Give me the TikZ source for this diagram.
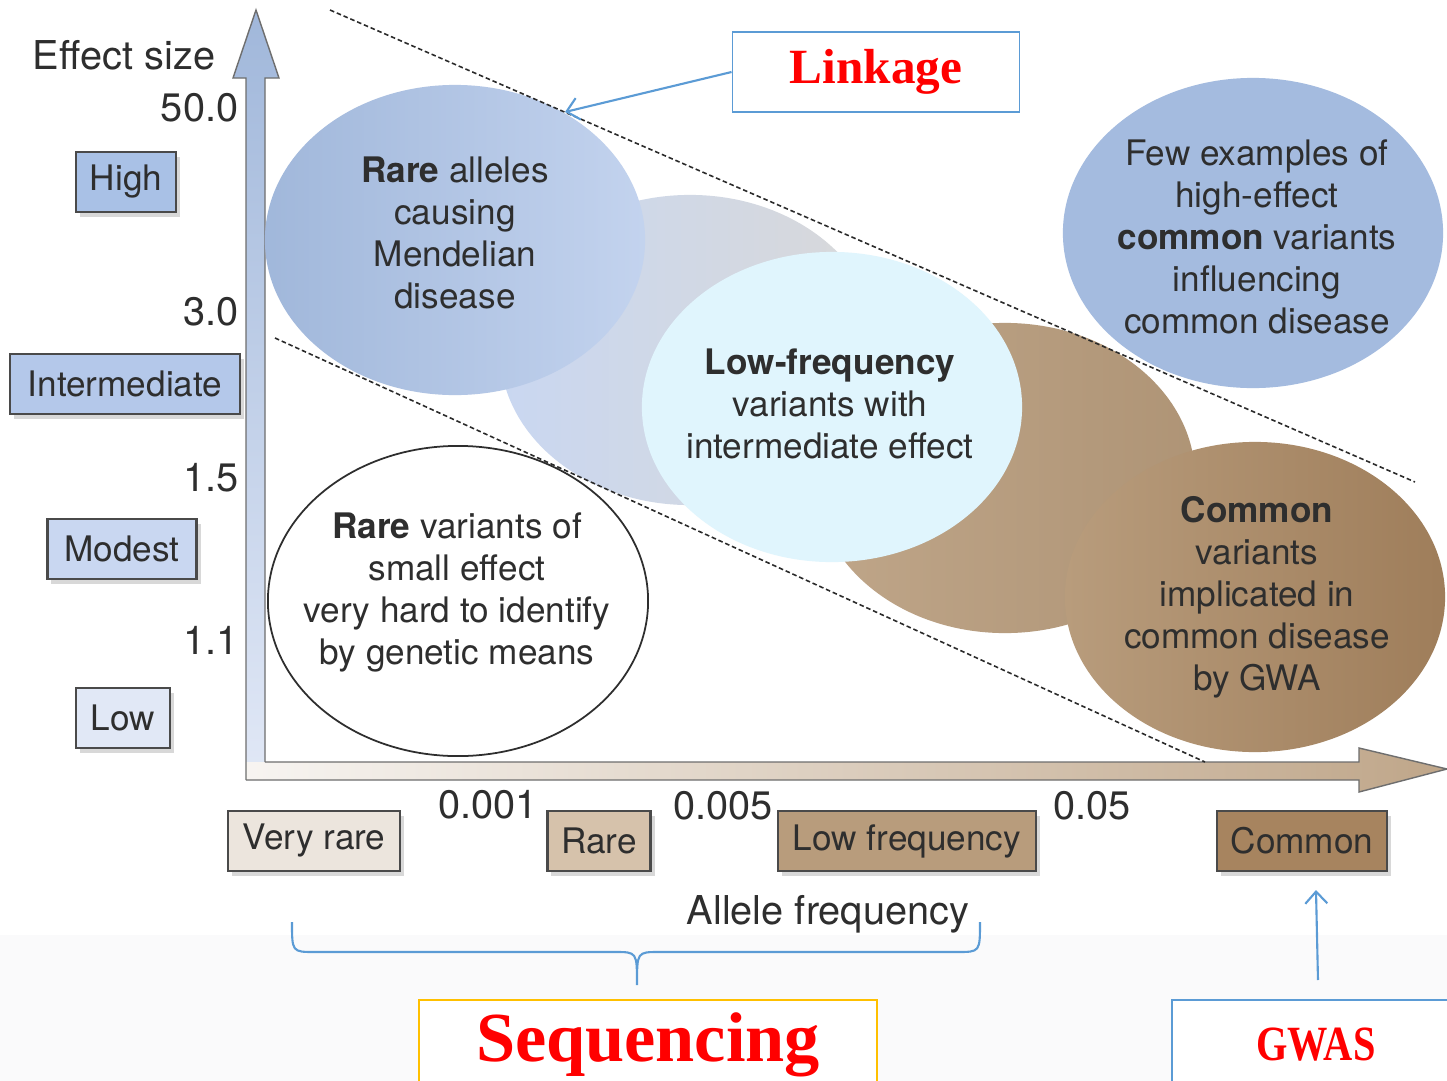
\documentclass[tikz,border=0pt]{standalone}
\usepackage{fontspec}
\setmainfont{TeX Gyre Heros}
\newfontfamily\calloutfont{Liberation Serif}
\usetikzlibrary{shapes.geometric,shadows,arrows.meta}

\definecolor{inkgray}{HTML}{2E2E2E}
\definecolor{boxedge}{HTML}{4A4A4A}
\definecolor{guidegray}{HTML}{2A2A2A}
\definecolor{calloutred}{HTML}{FF0000}
\definecolor{pointerblue}{HTML}{5B9BD5}
\definecolor{seqgold}{HTML}{FFC000}
\definecolor{bandgray}{HTML}{FAFAFB}
% effect size colours
\definecolor{highblue}{HTML}{A9C1E6}
\definecolor{interblue}{HTML}{B4C8EA}
\definecolor{modestblue}{HTML}{C9D7F1}
\definecolor{lowblue}{HTML}{E1E8F6}
% allele frequency colours
\definecolor{veryrarebrown}{HTML}{ECE5DD}
\definecolor{rarebrown}{HTML}{D6C2AB}
\definecolor{lowfreqbrown}{HTML}{B89C7C}
\definecolor{commonbrown}{HTML}{A7845F}

\begin{document}
\begin{tikzpicture}[x=0.01cm,y=-0.01cm,
  blob/.style={ellipse, inner sep=0pt, minimum width=3.8cm, minimum height=3.1cm},
  blobtext/.style={align=center, inner sep=0pt, text=inkgray, font=\fontsize{10}{11.95}\selectfont},
  axislabel/.style={inner sep=0pt, text=inkgray, font=\fontsize{11.3}{13}\selectfont},
  catbox/.style={draw=boxedge, line width=0.6pt, inner sep=0pt, minimum height=0.6cm, text=inkgray,
    font=\fontsize{10}{12}\selectfont, drop shadow={shadow xshift=0.04cm, shadow yshift=-0.05cm, opacity=0.3}},
  callout/.style={draw=pointerblue, line width=0.5pt, fill=white, inner sep=0pt, text=calloutred, font=\calloutfont\bfseries},
  guide/.style={draw=guidegray, line width=0.45pt, dash pattern=on 1.3pt off 0.8pt},
  pointer/.style={draw=pointerblue, line width=0.6pt, -{Straight Barb[length=0.12cm,width=0.22cm]}}]
\useasboundingbox (0,0) rectangle (1447,1081);
\fill[white] (0,0) rectangle (1447,935);
\fill[bandgray] (0,935) rectangle (1447,1081);

% axes
\shade[top color=highblue!95!black, bottom color=lowblue] (246,780) -- (246,78) -- (233,78) -- (256,10) -- (279,78) -- (265,78) -- (265,780) -- cycle;
\shade[left color=veryrarebrown!40!white, right color=lowfreqbrown!90!white] (246,762) -- (1359,762) -- (1359,748) -- (1447,769) -- (1359,792) -- (1359,780) -- (246,780) -- cycle;
\draw[boxedge!80, line width=0.4pt] (265,762) -- (265,78) -- (279,78) -- (256,10) -- (233,78) -- (246,78) -- (246,780);
\draw[boxedge!80, line width=0.4pt] (246,780) -- (1359,780) -- (1359,792) -- (1447,769) -- (1359,748) -- (1359,762) -- (265,762);

% blobs
\node[blob, left color=modestblue, right color=black!15!white] (midblob) at (690,350) {};
\node[blob, left color=highblue!95!black, right color=interblue!80!white] (mend) at (455,240) {};
\node[blob, left color=lowfreqbrown!90!white, right color=lowfreqbrown!95!black] (brownblob) at (1005,478) {};
\node[blob, fill=cyan!12!white] (lowfreq) at (832,407) {};
\node[blob, left color=lowfreqbrown, right color=commonbrown!95!black] (common) at (1255,597) {};
\node[blob, fill=highblue!97!black] (few) at (1253,233) {};
\node[blob, draw=inkgray, line width=0.5pt, fill=white] (smallfx) at (458,601) {};

\node[blobtext] (mendtxt) at (455,233) {\textbf{Rare} alleles\\causing\\Mendelian\\disease};
\node[blobtext] (lowfreqtxt) at (830,404) {\textbf{Low-frequency}\\variants with\\intermediate effect};
\node[blobtext] (fewtxt) at (1257,237) {Few examples of\\high-effect\\\textbf{common} variants\\influencing\\common disease};
\node[blobtext] (commontxt) at (1257,597) {\textbf{Common}\\variants\\implicated in\\common disease\\by GWA};
\node[blobtext] (smallfxtxt) at (457,592) {\textbf{Rare} variants of\\small effect\\very hard to identify\\by genetic means};

% dashed guides
\coordinate (upA) at (330,10);
\coordinate (upB) at (1415,482);
\coordinate (loA) at (275,338);
\coordinate (loB) at (1205,762);
\draw[guide] (upA) -- (upB);
\draw[guide] (loA) -- (loB);

% effect size axis
\node[axislabel, anchor=east] (effect) at (216,55) {Effect size};
\node[axislabel, anchor=east] (t50) at (239,108) {50.0};
\node[axislabel, anchor=east] (t30) at (239,312) {3.0};
\node[axislabel, anchor=east] (t15) at (239,478) {1.5};
\node[axislabel, anchor=east] (t11) at (239,640) {1.1};
\node[catbox, fill=highblue, minimum width=1.0cm] (high) at (126,182) {High};
\node[catbox, fill=interblue, minimum width=2.3cm] (inter) at (125,384) {Intermediate};
\node[catbox, fill=modestblue, minimum width=1.49cm] (modest) at (122,549) {Modest};
\node[catbox, fill=lowblue, minimum width=0.94cm] (low) at (123,718) {Low};

% allele frequency axis
\node[axislabel] (f001) at (488,805) {0.001};
\node[axislabel] (f005) at (723,806) {0.005};
\node[axislabel] (f05) at (1092,806) {0.05};
\node[catbox, fill=veryrarebrown, minimum width=1.72cm] (veryrare) at (314,841) {Very rare};
\node[catbox, fill=rarebrown, minimum width=1.03cm] (rare) at (599,841) {Rare};
\node[catbox, fill=lowfreqbrown, minimum width=2.58cm] (lowfreqbox) at (907,841) {Low frequency};
\node[catbox, fill=commonbrown, minimum width=1.7cm] (commonbox) at (1302,841) {Common};
\node[axislabel] (allele) at (828,914) {Allele frequency};

% callouts
\node[callout, minimum width=2.87cm, minimum height=0.8cm, font=\calloutfont\bfseries\fontsize{14}{16}\selectfont] (linkage) at (876,72) {Linkage};
\node[callout, draw=seqgold, minimum width=4.57cm, minimum height=0.9cm, font=\calloutfont\bfseries\fontsize{20}{22}\selectfont] (seq) at (648,1045) {Sequencing};
\node[callout, minimum width=2.88cm, minimum height=0.9cm, font=\calloutfont\bfseries\fontsize{14}{16}\selectfont] (gwas) at (1316,1045) {\scalebox{0.82}[1]{GWAS}};

\coordinate (linktip) at (565,112);
\draw[pointer] (linkage.west) -- (linktip);
\coordinate (gwasfoot) at (1318,980);
\coordinate (gwastip) at (1316,890);
\draw[pointer] (gwasfoot) -- (gwastip);

% brace over the rare classes
\coordinate (braceL) at (292,922);
\coordinate (braceR) at (980,922);
\coordinate (braceM) at (637,985);
\draw[pointerblue, line width=0.6pt] (braceL) .. controls (292,952) .. (315,952) -- (615,952)
  .. controls (637,952) .. (braceM) .. controls (637,952) .. (659,952) -- (957,952) .. controls (980,952) .. (braceR);
\end{tikzpicture}
\end{document}
